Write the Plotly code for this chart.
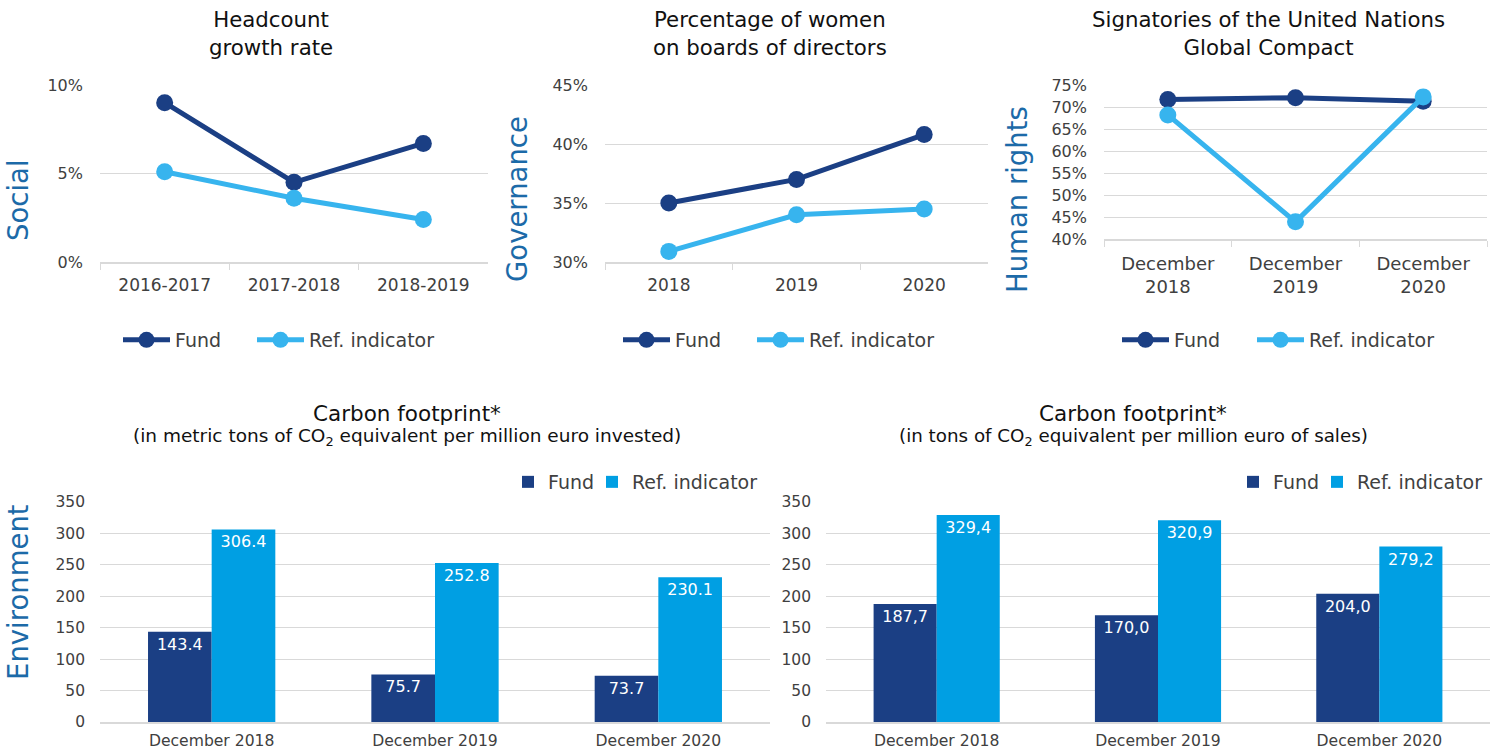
import plotly.graph_objects as go

W, H = 1490, 751

# ---------------- data ----------------
social_cats = ["2016-2017", "2017-2018", "2018-2019"]
social_fund = [9.0, 4.5, 6.7]
social_ref = [5.1, 3.6, 2.4]

gov_cats = ["2018", "2019", "2020"]
gov_fund = [35.0, 37.0, 40.8]
gov_ref = [30.9, 34.0, 34.5]

hr_cats = ["December<br>2018", "December<br>2019", "December<br>2020"]
hr_fund = [71.7, 72.1, 71.3]
hr_ref = [68.2, 43.9, 72.3]

env_cats = ["December 2018", "December 2019", "December 2020"]
inv_fund = [143.4, 75.7, 73.7]
inv_ref = [306.4, 252.8, 230.1]
sales_fund = [187.7, 170.0, 204.0]
sales_ref = [329.4, 320.9, 279.2]

series_names = ["Fund", "Ref. indicator"]

# ---------------- styles ----------------
NAVY = "#1B3F84"
LIGHT_LINE = "#37B4EE"
LIGHT_BAR = "#009FE3"
AXIS_TITLE = "#1C6AA8"
GRID = "#D9D9D9"
TICK = "#404040"
FONT = "DejaVu Sans, Open Sans, sans-serif"


def fx(p):
    return p / W


def fy(p):
    return 1 - p / H


fig = go.Figure()
legend_layout = {}
leg_count = [0]


def new_legend(x_px, y_px, itemwidth):
    leg_count[0] += 1
    key = "legend" if leg_count[0] == 1 else f"legend{leg_count[0]}"
    legend_layout[key] = dict(orientation="h", xanchor="left", yanchor="middle",
                              x=fx(x_px), y=fy(y_px),
                              font=dict(size=19, color=TICK, family=FONT),
                              bgcolor="rgba(0,0,0,0)", itemwidth=itemwidth)
    return key


line_panels = [
    ("x", "y", social_cats, social_fund, social_ref, (118, 252)),
    ("x2", "y2", gov_cats, gov_fund, gov_ref, (618, 752)),
    ("x3", "y3", hr_cats, hr_fund, hr_ref, (1117, 1252)),
]
for xa, ya, cats, fund, ref, legx in line_panels:
    for name, vals, col, lx in [(series_names[0], fund, NAVY, legx[0]),
                                (series_names[1], ref, LIGHT_LINE, legx[1])]:
        fig.add_trace(go.Scatter(
            x=cats, y=vals, name=name, mode="lines+markers",
            line=dict(color=col, width=5),
            marker=dict(color=col, size=17),
            xaxis=xa, yaxis=ya, legend=new_legend(lx, 340, 47),
        ))

bar_panels = [
    ("x4", "y4", inv_fund, inv_ref, ".", (508, 592)),
    ("x5", "y5", sales_fund, sales_ref, ",", (1233, 1317)),
]
for xa, ya, fund, ref, dec, legx in bar_panels:
    for name, vals, col, lx in [(series_names[0], fund, NAVY, legx[0]),
                                (series_names[1], ref, LIGHT_BAR, legx[1])]:
        fig.add_trace(go.Bar(
            x=env_cats, y=vals, name=name, marker=dict(color=col, line=dict(width=0)),
            text=[f"{v:.1f}".replace(".", dec) for v in vals],
            textposition="inside", insidetextanchor="end", textangle=0,
            textfont=dict(color="white", size=16, family=FONT),
            xaxis=xa, yaxis=ya, legend=new_legend(lx, 482, 30),
        ))

top_x = dict(type="category", range=[-0.5, 2.5], tickson="boundaries", ticks="outside",
             ticklen=6, tickcolor=GRID, tickwidth=1, showline=True, linecolor=GRID,
             linewidth=2, showgrid=False, tickfont=dict(size=17, color=TICK, family=FONT),
             ticklabelstandoff=7, fixedrange=True, automargin=False)
top_y = dict(showgrid=True, gridcolor=GRID, gridwidth=1, zeroline=False, showline=False,
             ticksuffix="%", tickfont=dict(size=16, color=TICK, family=FONT),
             ticklabelstandoff=16, fixedrange=True, automargin=False)
bot_x = dict(type="category", range=[-0.5, 2.5], ticks="", showline=True, linecolor=GRID,
             linewidth=2, showgrid=False, tickfont=dict(size=15.6, color=TICK, family=FONT),
             ticklabelstandoff=3, fixedrange=True, automargin=False)
bot_y = dict(showgrid=True, gridcolor=GRID, gridwidth=1, zeroline=False, showline=False,
             range=[0, 350], dtick=50, tickfont=dict(size=15.5, color=TICK, family=FONT),
             ticklabelstandoff=14, fixedrange=True, automargin=False)

fig.update_layout(
    width=W, height=H, margin=dict(l=0, r=0, t=0, b=0, autoexpand=False),
    paper_bgcolor="white", plot_bgcolor="white",
    font=dict(family=FONT, color="#222222"),
    barmode="group", bargap=0.43, bargroupgap=0,
    xaxis=dict(top_x, domain=[fx(100), fx(488)], anchor="y"),
    yaxis=dict(top_y, domain=[fy(262), fy(85)], range=[0, 10], dtick=5, anchor="x"),
    xaxis2=dict(top_x, domain=[fx(605), fx(988)], anchor="y2"),
    yaxis2=dict(top_y, domain=[fy(262), fy(85)], range=[30, 45], dtick=5, anchor="x2"),
    xaxis3=dict(top_x, domain=[fx(1104), fx(1487)], anchor="y3",
                tickfont=dict(size=18, color=TICK, family=FONT)),
    yaxis3=dict(top_y, domain=[fy(239), fy(85)], range=[40, 75], dtick=5, anchor="x3"),
    xaxis4=dict(bot_x, domain=[fx(100), fx(770)], anchor="y4"),
    yaxis4=dict(bot_y, domain=[fy(722), fy(502)], anchor="x4"),
    xaxis5=dict(bot_x, domain=[fx(826), fx(1490)], anchor="y5"),
    yaxis5=dict(bot_y, domain=[fy(722), fy(502)], anchor="x5"),
    showlegend=True,
    **legend_layout,
)

annotations = []
# chart titles
for txt, cx in [("Headcount<br>growth rate", 271),
                ("Percentage of women<br>on boards of directors", 770),
                ("Signatories of the United Nations<br>Global Compact", 1268)]:
    annotations.append(dict(text=txt, x=fx(cx), y=fy(33), xref="paper", yref="paper",
                            showarrow=False, xanchor="center", yanchor="middle",
                            font=dict(size=21.3, color="#111111", family=FONT)))
for sub, cx, sz in [("(in metric tons of CO<sub>2</sub> equivalent per million euro invested)", 407, 18.5),
                    ("(in tons of CO<sub>2</sub> equivalent per million euro of sales)", 1133, 18.3)]:
    annotations.append(dict(text="Carbon footprint*", x=fx(cx), y=fy(413), xref="paper",
                            yref="paper", showarrow=False, xanchor="center", yanchor="middle",
                            font=dict(size=21.5, color="#111111", family=FONT)))
    annotations.append(dict(text=sub, x=fx(cx), y=fy(437), xref="paper", yref="paper",
                            showarrow=False, xanchor="center", yanchor="middle",
                            font=dict(size=sz, color="#111111", family=FONT)))
# pillar labels
for txt, px_, py_ in [("Social", 18, 200), ("Governance", 517, 199),
                      ("Human rights", 1017, 200), ("Environment", 18, 592)]:
    annotations.append(dict(text=txt, x=fx(px_), y=fy(py_), xref="paper", yref="paper",
                            showarrow=False, xanchor="center", yanchor="middle", textangle=-90,
                            font=dict(size=27.5, color=AXIS_TITLE, family=FONT)))
fig.update_layout(annotations=annotations)

fig.write_html("out.html", config={"displayModeBar": False},
               post_script="document.body.style.margin='0px';")
